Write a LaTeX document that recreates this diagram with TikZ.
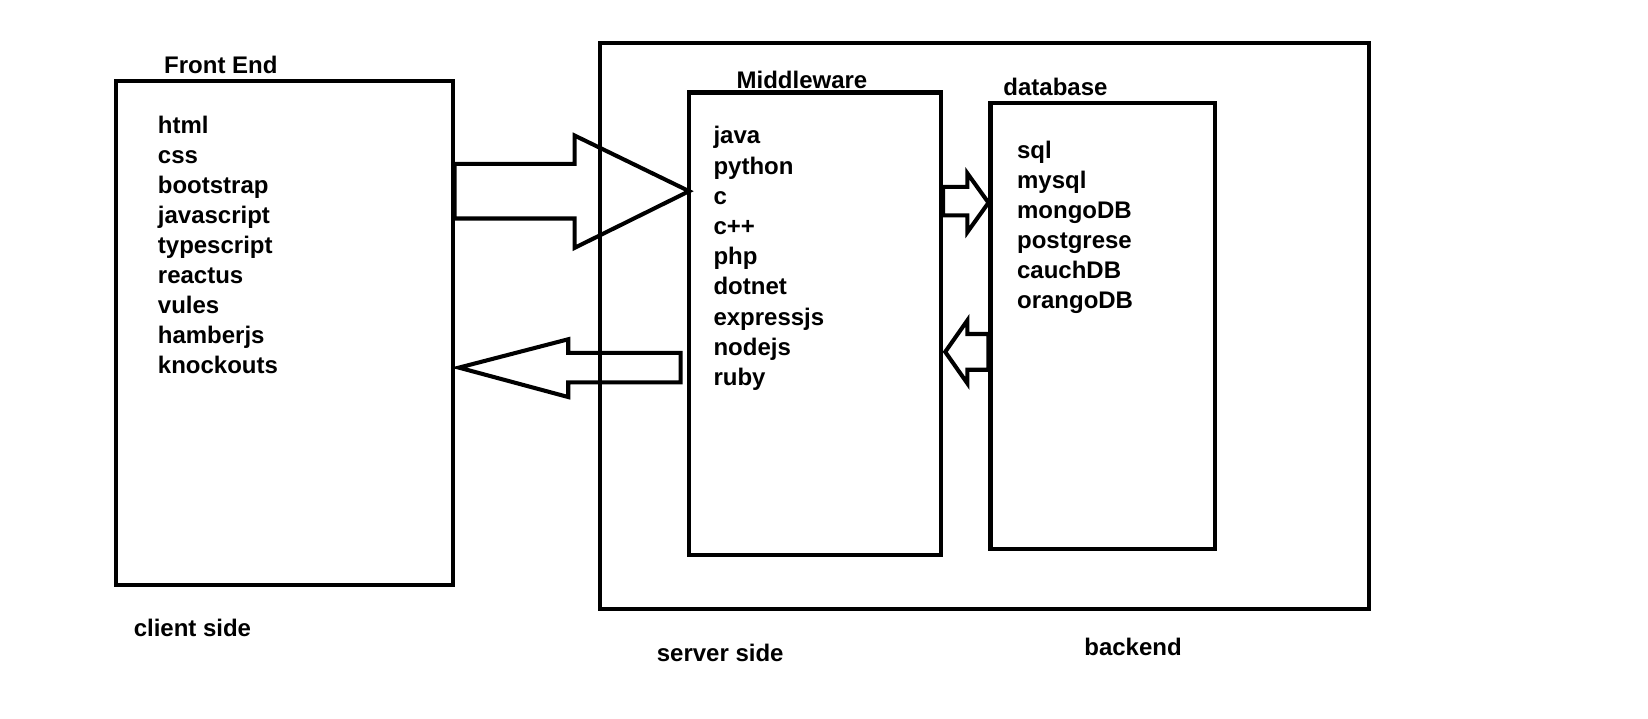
\documentclass[tikz,border=0pt]{standalone}
\usepackage{fontspec}
\setmainfont{Liberation Sans}
\usepackage{tikz}
\usetikzlibrary{calc,positioning}

\tikzset{
    box/.style={draw, rectangle, line width=2.2pt, inner sep=0pt},
    itemtext/.style={font=\fontsize{13}{16}\selectfont\bfseries, inner sep=0pt, anchor=base west},
    blockarrow/.style={draw, line width=2.2pt, line join=miter}
}

\begin{document}
\begin{tikzpicture}[x=0.02cm, y=-0.02cm]
    \useasboundingbox (0,0) rectangle (1569,684);

    % Client side box
    \node[box, minimum width=6.42cm, minimum height=9.6cm] (front) at (270.5,317) {};
    \node[itemtext] (front-title) at (156,70) {Front End};
    \foreach \lang [count=\i from 0] in {html,css,bootstrap,javascript,typescript,reactus,vules,hamberjs,knockouts}
        \node[itemtext] (front-\i) at (150,{127+28.6*\i}) {\lang};

    % Server box holding middleware and database
    \node[box, minimum width=14.64cm, minimum height=10.78cm] (server) at (937,310.5) {};

    % Middleware box
    \node[box, minimum width=4.8cm, minimum height=8.8cm] (mid) at (776,308) {};
    \node[itemtext] (mid-title) at (701,84) {Middleware};
    \foreach \lang [count=\i from 0] in {java,python,c,c++,php,dotnet,expressjs,nodejs,ruby}
        \node[itemtext] (mid-\i) at (679,{137+28.75*\i}) {\lang};

    % Database box
    \node[box, minimum width=4.28cm, minimum height=8.5cm] (db) at (1050,310.5) {};
    \node[itemtext] (db-title) at (955,91) {database};
    \foreach \lang [count=\i from 0] in {sql,mysql,mongoDB,postgrese,cauchDB,orangoDB}
        \node[itemtext] (db-\i) at (968,{150.5+28.6*\i}) {\lang};

    % Captions under the boxes
    \node[itemtext] (client) at (127,606) {client side};
    \node[itemtext] (serverside) at (625,630) {server side};
    \node[itemtext] (backend) at (1032,624) {backend};

    % Request arrow from front end to middleware
    \draw[blockarrow] (front.east |- 0,156) -- (547,156) -- (547,129) -- ($(mid.west |- 0,182)+(2,0)$)
        -- (547,236) -- (547,208) -- (front.east |- 0,208) -- cycle;

    % Response arrow from middleware back to front end
    \draw[blockarrow] ($(front.east |- 0,350)+(4,0)$) -- (541,323) -- (541,336) -- (648,336)
        -- (648,364) -- (541,364) -- (541,378) -- cycle;

    % Query arrow from middleware to database
    \draw[blockarrow] (mid.east |- 0,178) -- (921,178) -- (921,165) -- (db.west |- 0,193)
        -- (921,221) -- (921,205) -- (mid.east |- 0,205) -- cycle;

    % Result arrow from database to middleware
    \draw[blockarrow] ($(mid.east |- 0,335)+(2,0)$) -- (921,305) -- (921,318) -- (db.west |- 0,318)
        -- (db.west |- 0,352) -- (921,352) -- (921,365) -- cycle;
\end{tikzpicture}
\end{document}
